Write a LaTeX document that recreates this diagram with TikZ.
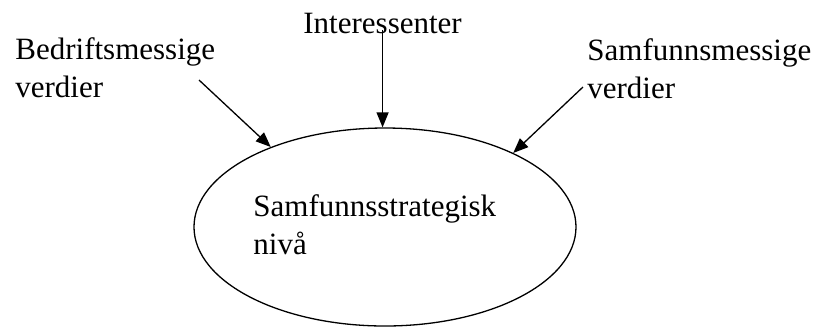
\documentclass[tikz,border=0pt]{standalone}
\usepackage{fontspec}
\setmainfont{Liberation Serif}
\usetikzlibrary{arrows.meta,shapes.geometric}

\begin{document}
\begin{tikzpicture}[x=0.5pt,y=-0.5pt,
	every node/.style={font=\fontsize{15.5}{19}\selectfont},
	label text/.style={inner sep=0pt,anchor=base west,align=left},
	influence/.style={line width=0.65pt,-{Triangle[length=7.5pt,width=6pt]}},
	level/.style={draw,ellipse,line width=0.65pt,minimum width=191pt,minimum height=99pt,inner sep=0pt}]
	\useasboundingbox (0,0) rectangle (821,329);
	\node[level] (niva) at (385,227) {};
	\node[label text] (strategi) at (253,254) {Samfunnsstrategisk\\niv\r{a}};
	\node[label text] (bedrift) at (15,97) {Bedriftsmessige\\verdier};
	\node[label text] (inter) at (303,33) {Interessenter};
	\node[label text] (samfunn) at (587,98) {Samfunnsmessige\\verdier};
	\coordinate (bedrift end) at (199,80);
	\coordinate (samfunn end) at (583,87);
	\draw[influence] (bedrift end) -- (niva.145);
	\draw[influence] ([yshift=1.5pt]inter.base) -- (inter.base |- niva.north);
	\draw[influence] (samfunn end) -- (niva.30);
\end{tikzpicture}
\end{document}
